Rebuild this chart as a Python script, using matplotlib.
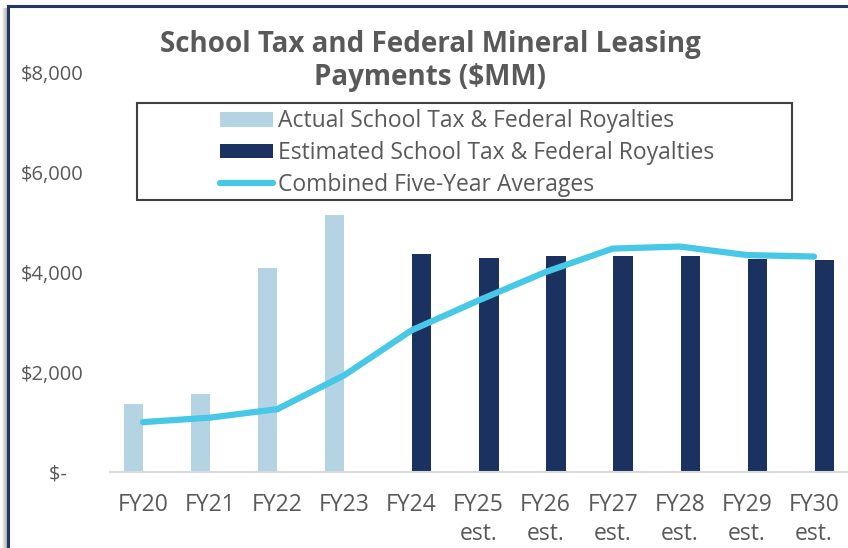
import numpy as np
import matplotlib
matplotlib.use("Agg")
import matplotlib.pyplot as plt
from matplotlib.patches import Rectangle
from matplotlib.lines import Line2D

categories = ["FY20", "FY21", "FY22", "FY23", "FY24", "FY25\nest.", "FY26\nest.",
              "FY27\nest.", "FY28\nest.", "FY29\nest.", "FY30\nest."]
actual = [1360, 1560, 4100, 5160, np.nan, np.nan, np.nan, np.nan, np.nan, np.nan, np.nan]
estimated = [np.nan, np.nan, np.nan, np.nan, 4380, 4290, 4330, 4330, 4330, 4270, 4250]
averages = [1000, 1090, 1260, 1940, 2840, 3440, 4010, 4480, 4520, 4350, 4320]
yticks = [0, 2000, 4000, 6000, 8000]
ytick_labels = ["$-   ", "$2,000", "$4,000", "$6,000", "$8,000"]

TXT = "#595959"
C_ACT = "#B4D4E4"
C_EST = "#1B3160"
C_LINE = "#47C8E6"
FONT = "Open Sans"

W, H = 848, 548
fig = plt.figure(figsize=(W / 100, H / 100), dpi=100)
fig.patch.set_facecolor("white")

ax_l, ax_r, ax_b, ax_t = 109.5, 847.6, 472, 73
ax = fig.add_axes([ax_l / W, (H - ax_b) / H, (ax_r - ax_l) / W, (ax_b - ax_t) / H])
ax.set_facecolor("none")

x = np.arange(len(categories))
bw = 0.288
b1 = ax.bar(x - bw / 2, actual, width=bw, color=C_ACT, zorder=2,
            label="Actual School Tax & Federal Royalties")
b2 = ax.bar(x + bw / 2 + 0.01, estimated, width=bw, color=C_EST, zorder=2,
            label="Estimated School Tax & Federal Royalties")
ln, = ax.plot(x, averages, color=C_LINE, lw=4.5, solid_capstyle="round",
              solid_joinstyle="round", zorder=3, label="Combined Five-Year Averages")

ax.set_xlim(-0.5, len(categories) - 0.5)
ax.set_ylim(0, 8000)
ax.set_yticks(yticks)
ax.set_yticklabels(ytick_labels)
ax.set_xticks(x)
ax.set_xticklabels(categories, linespacing=1.3)
ax.tick_params(axis="y", length=0, pad=19, labelsize=14.5, labelcolor=TXT)
ax.tick_params(axis="x", length=0, pad=15, labelsize=16.5, labelcolor=TXT)
for lab in ax.get_xticklabels() + ax.get_yticklabels():
    lab.set_fontfamily(FONT)
for s in ["top", "right", "left"]:
    ax.spines[s].set_visible(False)
ax.spines["bottom"].set_color("#D9D9D9")
ax.spines["bottom"].set_linewidth(1.5)

# Title
fig.text(430 / W, (H - 61) / H, "School Tax and Federal Mineral Leasing\nPayments ($MM)",
         ha="center", va="center", fontsize=20, fontweight="bold", color=TXT,
         family=FONT, linespacing=1.22)

# Legend
leg = fig.legend(handles=[b1, b2, ln], loc="center",
                 bbox_to_anchor=(467 / W, (H - 153) / H), bbox_transform=fig.transFigure,
                 frameon=False, prop={"family": FONT, "size": 16.5},
                 handlelength=2.3, handleheight=0.6, handletextpad=0.22,
                 labelspacing=0.33, borderpad=0)
for t in leg.get_texts():
    t.set_color(TXT)
fig.patches.append(Rectangle((137 / W, (H - 200) / H), (792 - 137) / W, (200 - 103) / H,
                             transform=fig.transFigure, fill=False, edgecolor="#404040",
                             lw=1.5, zorder=5))

# Outer frame with shadow
for i, a in enumerate([0.05, 0.1, 0.15, 0.2, 0.25, 0.3]):
    xx = (1.5 + i) / W
    fig.lines.append(Line2D([xx, xx], [0, (H - 8) / H], transform=fig.transFigure,
                            color="black", alpha=a, lw=0.8))
fig.lines.append(Line2D([8 / W, 8 / W], [0, (H - 6) / H], transform=fig.transFigure,
                        color="#1F3864", lw=2.2))
fig.lines.append(Line2D([8 / W, 1], [(H - 6) / H, (H - 6) / H], transform=fig.transFigure,
                        color="#1F3864", lw=2.2))

fig.savefig("out.png", dpi=100)
